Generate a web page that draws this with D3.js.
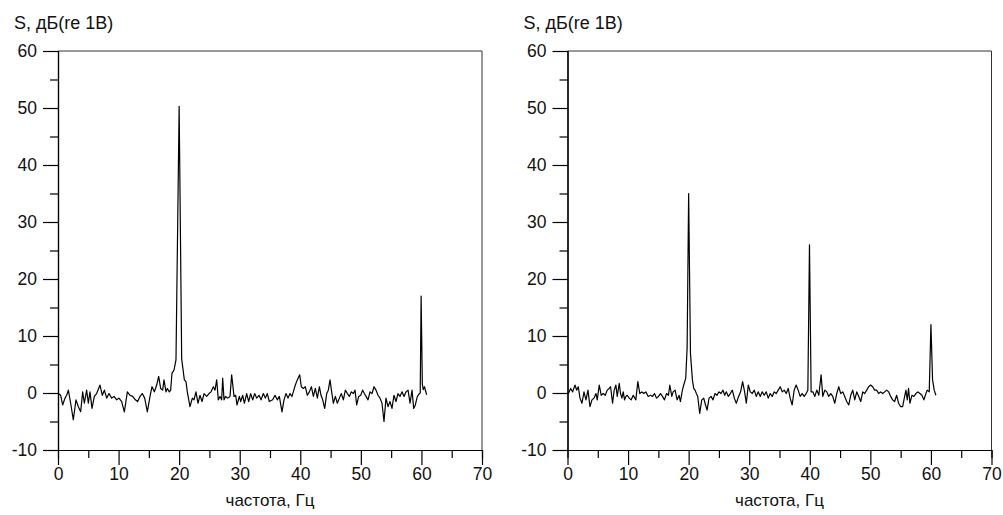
<!DOCTYPE html>
<html>
<head>
<meta charset="utf-8">
<script src="https://cdn.jsdelivr.net/npm/d3@7"></script>
<style>
  body { margin: 0; background: #fff; }
  svg text { font-family: "Liberation Sans", Arial, sans-serif; fill: #111; }
</style>
</head>
<body>
<div id="chart"></div>
<script>
// spectrum, first record: [frequency Hz, level dB]
const spectrumA = [
  [0.05,-0.1],[0.44,-0.4],[0.77,-2.1],[1.16,-0.9],[1.43,-0.4],[1.71,0.5],[2.09,-1.8],[2.53,-4.7],[2.97,-1.2],[3.36,-2.4],
  [3.74,-3.3],[4.07,0.2],[4.35,-1.8],[4.73,0.5],[5.01,-1.8],[5.28,0.2],[5.61,-2.7],[6.0,-0.6],[6.38,-0.1],[6.93,1.4],
  [7.32,-0.4],[7.65,0.5],[8.04,-0.9],[8.42,-0.1],[8.86,-0.9],[9.25,-0.6],[9.69,-1.2],[10.07,-0.9],[10.51,-1.5],[10.95,-3.3],
  [11.45,0.2],[11.89,-0.4],[12.33,-0.6],[12.77,-1.2],[13.15,-1.5],[13.54,-0.6],[13.92,-0.1],[14.31,-0.9],[14.75,-3.3],[15.19,-0.6],
  [15.52,1.1],[15.91,0.2],[16.29,1.4],[16.62,2.9],[16.95,0.8],[17.28,0.5],[17.5,2.3],[17.83,0.2],[18.05,0.8],[18.38,0.2],
  [18.6,0.5],[18.82,3.5],[19.15,4.0],[19.48,5.8],[20.0,50.3],[20.42,6.0],[20.6,4.5],[20.86,2.3],[21.13,2.0],[21.35,0.2],
  [21.79,-2.4],[22.18,-0.9],[22.45,-1.2],[22.78,0.2],[23.11,-1.8],[23.44,-0.4],[23.78,-1.5],[24.11,-0.1],[24.55,-0.6],[24.93,-0.1],
  [25.26,0.2],[25.65,1.1],[25.92,0.5],[26.2,2.3],[26.47,-1.2],[26.75,-0.6],[27.02,-1.2],[27.19,2.6],[27.41,-1.2],[27.68,-0.6],
  [28.01,-0.9],[28.4,-0.6],[28.67,3.2],[29.06,-0.6],[29.33,-0.4],[29.55,-2.1],[29.94,-0.6],[30.16,-1.5],[30.49,-0.4],[30.77,-1.8],
  [31.15,-0.1],[31.48,-1.5],[31.81,-0.1],[32.14,-1.2],[32.47,-0.1],[32.8,-0.9],[33.19,-0.4],[33.52,-1.2],[33.9,-0.1],[34.23,-0.9],
  [34.56,-0.1],[34.89,-1.5],[35.44,-1.2],[35.83,-0.4],[36.21,-1.2],[36.54,-0.6],[36.98,-3.3],[37.31,-1.2],[37.64,-0.1],[37.97,-0.9],
  [38.3,-0.1],[38.63,-0.6],[38.85,0.2],[39.18,1.4],[39.51,2.3],[39.9,3.2],[40.17,1.1],[40.5,0.8],[40.83,1.1],[41.16,-0.4],
  [41.5,0.2],[41.83,1.1],[42.16,-0.6],[42.49,0.8],[42.82,-0.9],[43.15,1.1],[43.42,-0.4],[43.7,-1.2],[44.03,-2.7],[44.36,-0.1],
  [44.63,0.5],[44.91,2.3],[45.18,0.2],[45.46,-1.8],[45.79,-0.6],[46.12,-1.8],[46.45,-0.9],[46.78,-0.1],[47.11,-1.2],[47.44,0.5],
  [47.77,-0.1],[48.1,-0.6],[48.43,0.2],[48.76,-0.1],[49.04,0.5],[49.31,-2.1],[49.64,-0.6],[49.97,-0.4],[50.3,0.5],[50.58,-0.1],
  [50.85,-0.6],[51.18,-1.2],[51.51,0.2],[51.84,-0.1],[52.17,1.1],[52.5,0.5],[52.83,-0.4],[53.16,-0.9],[53.49,-1.8],[53.82,-5.0],
  [54.15,-0.9],[54.48,-2.4],[54.81,-1.5],[55.14,-2.7],[55.47,-0.4],[55.8,-1.5],[56.13,-0.1],[56.46,-0.6],[56.8,0.2],[57.13,-0.6],
  [57.46,0.2],[57.79,0.5],[58.12,-1.8],[58.45,0.5],[58.72,-2.7],[58.99,-2.1],[59.33,-0.6],[59.66,-0.1],[59.8,0.0],[59.95,17.0],
  [60.15,1.5],[60.3,0.6],[60.5,1.1],[60.7,0.3],[60.87,-0.3]
];

// spectrum, second record
const spectrumB = [
  [0.14,-0.1],[0.52,0.8],[0.85,0.2],[1.24,1.4],[1.51,0.5],[1.78,1.1],[2.06,-0.9],[2.39,-1.8],[2.72,0.2],[3.05,-1.2],
  [3.38,0.5],[3.71,-2.4],[4.04,-1.2],[4.37,-0.9],[4.7,-0.1],[4.91,-1.2],[5.24,1.4],[5.57,-0.4],[5.9,-0.1],[6.23,-0.4],
  [6.56,0.5],[6.89,0.8],[7.11,1.1],[7.44,-1.8],[7.71,0.5],[7.99,1.4],[8.21,-0.6],[8.54,1.7],[8.76,-0.1],[8.98,-0.9],
  [9.2,0.2],[9.42,-1.2],[9.64,-0.6],[9.86,-0.4],[10.19,-0.9],[10.52,-1.2],[10.85,-0.4],[11.28,-1.2],[11.61,2.0],[11.94,-0.1],
  [12.27,0.2],[12.6,-0.1],[12.93,0.2],[13.32,-0.6],[13.7,-0.4],[14.03,-0.6],[14.36,-0.1],[14.69,-0.9],[15.02,-0.6],[15.35,-0.1],
  [15.68,-0.6],[16.01,-1.2],[16.34,-0.1],[16.67,-0.4],[16.89,1.4],[17.22,-0.6],[17.44,0.2],[17.76,0.5],[18.09,-1.2],[18.42,-0.4],
  [18.64,-1.5],[18.97,0.5],[19.19,1.4],[19.52,2.6],[19.75,8.0],[20.0,35.0],[20.3,7.0],[20.62,2.3],[20.84,0.8],[21.06,0.5],
  [21.28,-0.1],[21.5,-0.6],[21.83,-3.6],[22.16,-1.2],[22.49,-0.9],[22.71,-1.8],[23.04,-3.0],[23.37,-0.9],[23.7,-0.6],[24.02,-1.2],
  [24.35,-0.1],[24.68,-0.4],[25.01,0.2],[25.34,-0.1],[25.67,0.5],[25.95,-0.4],[26.22,0.2],[26.55,-0.6],[26.88,-0.1],[27.21,0.5],
  [27.54,-0.9],[27.87,-1.8],[28.25,-0.6],[28.58,0.2],[28.91,2.0],[29.24,0.2],[29.52,-1.8],[29.85,1.4],[30.17,0.2],[30.5,-0.1],
  [30.83,0.5],[31.16,-0.6],[31.49,0.2],[31.82,-0.6],[32.15,0.2],[32.48,-0.4],[32.81,0.2],[33.14,-0.9],[33.47,-0.1],[33.8,-0.6],
  [34.13,0.2],[34.46,-0.1],[34.79,0.5],[35.12,1.1],[35.45,0.2],[35.78,0.5],[36.11,-0.1],[36.44,0.8],[36.76,-0.9],[37.09,-2.1],
  [37.42,0.5],[37.75,1.4],[38.08,0.5],[38.41,-0.6],[38.74,-0.1],[39.07,-0.6],[39.4,-0.1],[39.68,0.5],[39.95,26.0],[40.22,0.2],
  [40.5,0.2],[40.83,-0.6],[41.16,0.5],[41.49,-0.4],[41.87,3.2],[42.15,-0.6],[42.48,0.5],[42.81,0.2],[43.13,-0.6],[43.46,-0.1],
  [43.79,-0.6],[44.12,-1.8],[44.45,-0.1],[44.78,1.1],[45.11,-0.1],[45.44,0.2],[45.77,-0.6],[46.1,-1.5],[46.43,-2.1],[46.76,-0.4],
  [47.09,0.5],[47.42,-1.2],[47.75,0.2],[48.08,-0.6],[48.41,-1.5],[48.74,0.2],[49.07,-0.1],[49.4,0.5],[49.72,1.1],[50.05,1.4],
  [50.38,1.1],[50.71,0.5],[51.04,0.5],[51.37,-0.1],[51.7,0.2],[52.03,-0.1],[52.36,0.2],[52.69,0.5],[53.02,0.2],[53.35,-0.6],
  [53.68,-1.2],[54.01,-1.5],[54.34,-0.4],[54.67,-1.8],[55.0,-2.4],[55.33,-2.4],[55.66,-0.6],[55.87,0.5],[56.09,-1.2],[56.31,0.8],
  [56.53,-1.8],[56.86,-0.4],[57.19,-0.6],[57.52,-0.1],[57.85,0.2],[58.18,-0.1],[58.51,-0.4],[58.84,-1.2],[59.17,-0.1],[59.39,0.5],
  [59.72,0.2],[60.0,12.0],[60.27,2.3],[60.54,0.5],[60.82,-0.4]
];

const xMajor = [0, 10, 20, 30, 40, 50, 60, 70];
const xMinor = [5, 15, 25, 35, 45, 55, 65];
const yMajor = [-10, 0, 10, 20, 30, 40, 50, 60];
const yMinor = [-5, 5, 15, 25, 35, 45, 55];
const xTitle = "частота, Гц";
const yTitle = "S, дБ(re 1В)";

const W = 424, H = 399, TOP = 51;
const MAJOR = 15, MINOR = 8;

const svg = d3.select("#chart").append("svg")
    .attr("width", 1003)
    .attr("height", 515);

const x = d3.scaleLinear().domain([0, 70]).range([0, W]);
const y = d3.scaleLinear().domain([-10, 60]).range([H, 0]);
// plain hyphen minus, like the original
const plain = d => String(d);

let drawPanel = function (left, data) {
    let g = svg.append("g").attr("transform", `translate(${left}, ${TOP})`);

    // frame top and right
    g.append("path")
        .attr("d", `M0,0H${W}V${H}`)
        .attr("fill", "none")
        .attr("stroke", "#333")
        .attr("stroke-width", 1);

    // minor ticks first, then major axes with labels
    g.append("g").attr("transform", `translate(0, ${H})`)
        .call(d3.axisBottom(x).tickValues(xMinor).tickSize(MINOR).tickFormat(""));
    g.append("g")
        .call(d3.axisLeft(y).tickValues(yMinor).tickSize(MINOR).tickFormat(""));

    g.append("g").attr("transform", `translate(0, ${H})`)
        .call(d3.axisBottom(x).tickValues(xMajor).tickSize(MAJOR).tickSizeOuter(0).tickPadding(3).tickFormat(plain));
    g.append("g")
        .call(d3.axisLeft(y).tickValues(yMajor).tickSize(MAJOR).tickSizeOuter(0).tickPadding(6).tickFormat(plain));

    g.selectAll(".tick line, .domain").attr("stroke", "#000").attr("stroke-width", 1.2);
    g.selectAll(".tick text")
        .attr("font-size", "17.5px")
        .attr("font-family", "Liberation Sans, Arial, sans-serif")
        .attr("fill", "#111");

    // spectrum trace
    let line = d3.line().x(d => x(d[0])).y(d => y(d[1]));
    g.append("path")
        .datum(data)
        .attr("d", line)
        .attr("fill", "none")
        .attr("stroke", "#000")
        .attr("stroke-width", 1.2)
        .attr("stroke-linejoin", "round");

    g.append("text")
        .attr("x", W / 2)
        .attr("y", H + 56)
        .attr("text-anchor", "middle")
        .attr("font-size", "17px")
        .text(xTitle);
    g.append("text")
        .attr("x", -44)
        .attr("y", -22)
        .attr("font-size", "18px")
        .text(yTitle);
};

drawPanel(58, spectrumA);
drawPanel(567.5, spectrumB);
</script>
</body>
</html>
